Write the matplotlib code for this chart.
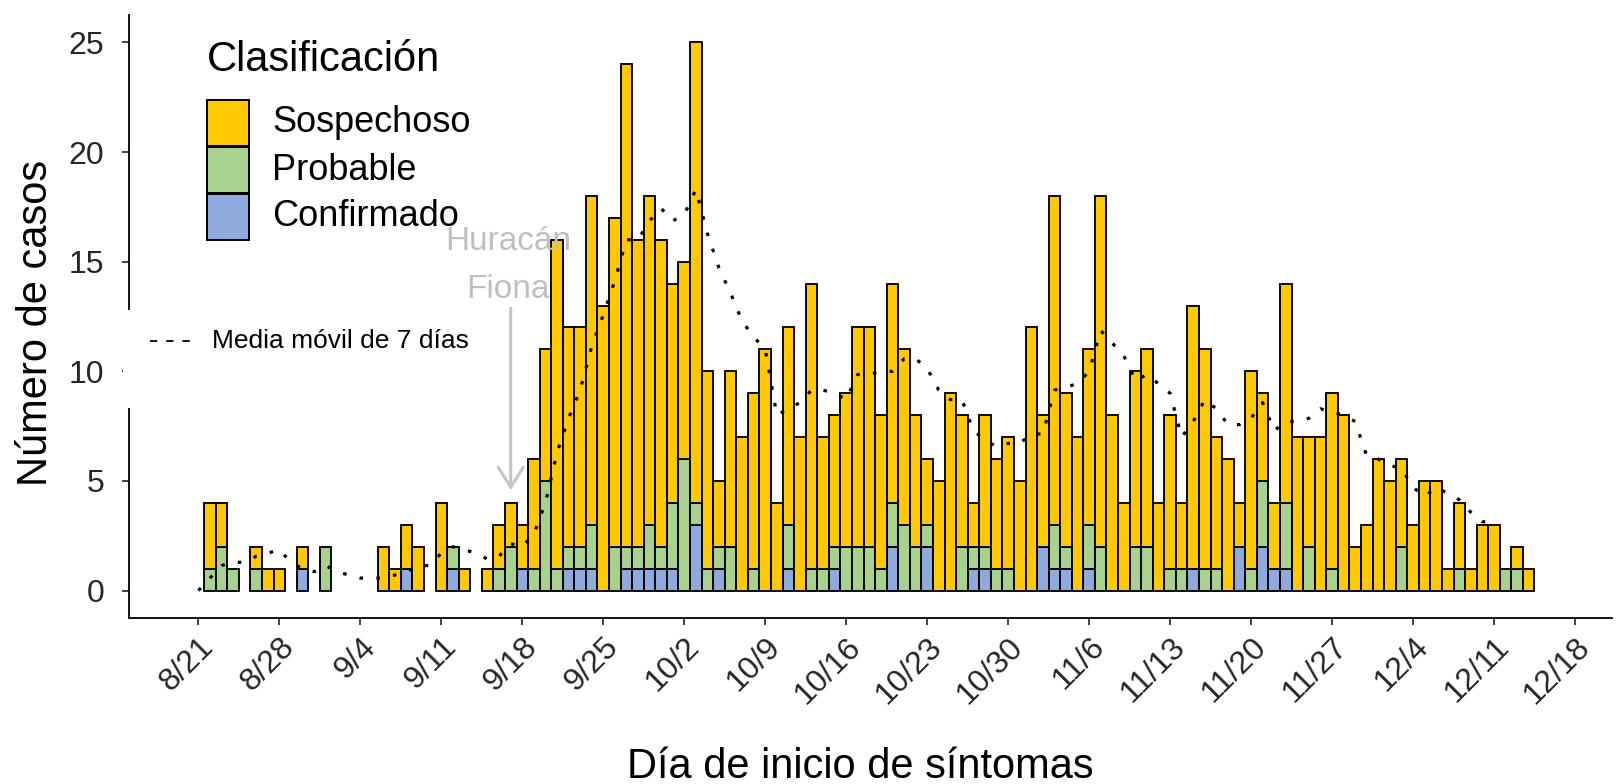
import numpy as np
import matplotlib
matplotlib.use('Agg')
import matplotlib.pyplot as plt
from matplotlib.patches import Rectangle
from matplotlib.lines import Line2D

plt.rcParams['font.family'] = ['Liberation Sans', 'DejaVu Sans']

# ---- data: daily cases from 8/21 (day 0) to 12/14 ----
confirmado = [0, 0, 0, 0, 0, 0, 0, 0, 0, 1, 0, 0, 0, 0, 0, 0, 0, 0, 1, 0,
              0, 0, 1, 0, 0, 0, 0, 0, 1, 0, 0, 0, 1, 1, 1, 0, 0, 1, 1, 1,
              1, 1, 0, 3, 0, 1, 0, 0, 0, 0, 0, 1, 0, 0, 0, 1, 0, 0, 0, 0,
              2, 0, 0, 2, 0, 0, 0, 1, 1, 0, 0, 0, 0, 2, 1, 1, 0, 1, 0, 0,
              0, 0, 0, 0, 0, 0, 1, 0, 0, 0, 2, 0, 2, 1, 1, 0, 0, 0, 0, 0,
              0, 0, 0, 0, 0, 0, 0, 0, 0, 0, 0, 0, 0, 0, 0, 0]
probable = [0, 1, 2, 1, 0, 1, 0, 0, 0, 0, 0, 2, 0, 0, 0, 0, 0, 0, 0, 0,
            0, 0, 1, 0, 0, 0, 1, 2, 0, 1, 5, 1, 1, 1, 2, 0, 2, 1, 1, 2,
            1, 3, 6, 1, 1, 1, 2, 0, 1, 0, 0, 2, 0, 1, 1, 1, 2, 2, 2, 1,
            2, 3, 2, 1, 0, 0, 2, 1, 1, 1, 1, 0, 0, 0, 2, 1, 0, 2, 2, 0,
            0, 2, 2, 0, 1, 1, 0, 1, 1, 0, 0, 1, 3, 0, 3, 0, 2, 0, 1, 0,
            0, 0, 0, 0, 2, 0, 0, 0, 0, 1, 0, 0, 0, 1, 1, 0]
sospechoso = [0, 3, 2, 0, 0, 1, 1, 1, 0, 1, 0, 0, 0, 0, 0, 0, 2, 1, 2, 2,
              0, 4, 0, 1, 0, 1, 2, 2, 2, 5, 6, 15, 10, 10, 15, 13, 15, 22, 14, 15,
              14, 10, 9, 21, 9, 3, 8, 7, 8, 11, 4, 9, 7, 13, 6, 6, 7, 10, 10, 7,
              10, 8, 6, 3, 5, 9, 6, 2, 6, 5, 6, 5, 12, 6, 15, 7, 7, 8, 16, 8,
              4, 8, 9, 4, 7, 3, 12, 10, 6, 6, 2, 9, 4, 3, 10, 7, 5, 7, 8, 8,
              2, 3, 6, 5, 4, 3, 5, 5, 1, 3, 1, 3, 3, 0, 1, 1]
# 7-day moving average (8/21 .. 12/11)
media_movil = [0.00, 0.57, 1.14, 1.29, 1.29, 1.57, 1.71, 1.86, 1.29, 1.00,
               0.86, 1.14, 0.86, 0.71, 0.57, 0.57, 0.57, 0.71, 0.86, 1.14,
               1.14, 1.71, 2.00, 1.86, 1.71, 1.43, 1.57, 2.14, 2.00, 2.57,
               4.00, 6.29, 7.86, 9.14, 11.14, 12.57, 14.14, 16.00, 16.00, 16.86,
               17.43, 16.86, 17.14, 18.29, 16.29, 14.71, 13.57, 12.29, 11.57, 11.00,
               8.00, 8.29, 8.57, 9.14, 9.14, 9.00, 8.71, 9.86, 9.86, 10.00,
               10.00, 10.57, 10.57, 10.14, 9.14, 8.71, 8.71, 7.29, 6.86, 6.57,
               6.71, 6.71, 7.14, 7.14, 9.14, 9.29, 9.43, 10.00, 11.86, 11.29,
               10.71, 9.57, 9.86, 9.43, 9.00, 7.00, 7.71, 8.71, 8.29, 7.57,
               7.57, 7.86, 8.57, 7.29, 7.71, 7.71, 7.86, 8.29, 8.14, 8.00,
               7.71, 6.14, 6.00, 5.71, 5.57, 4.71, 4.29, 4.71, 4.43, 4.14,
               3.57, 3.14, 3.14]
tick_labels = ['8/21', '8/28', '9/4', '9/11', '9/18', '9/25', '10/2', '10/9',
               '10/16', '10/23', '10/30', '11/6', '11/13', '11/20', '11/27',
               '12/4', '12/11', '12/18']
categorias = ['Sospechoso', 'Probable', 'Confirmado']
colores = {'Sospechoso': '#FFC800', 'Probable': '#A9D18E', 'Confirmado': '#8FAADC'}

W, H = 1620, 784
fig = plt.figure(figsize=(W / 100, H / 100), dpi=100)
ax = fig.add_axes([129 / W, 1 - 618 / H, (1612 - 129) / W, (618 - 15) / H])

C = np.array(confirmado)
P = np.array(probable)
S = np.array(sospechoso)
dias = np.arange(len(C))

def barras(vals, bottom, color):
    m = vals > 0
    ax.bar(dias[m], vals[m], bottom=bottom[m], width=1.0, color=color,
           edgecolor='black', linewidth=1.35, zorder=3)

barras(C, np.zeros_like(C), colores['Confirmado'])
barras(P, C, colores['Probable'])
barras(S, C + P, colores['Sospechoso'])

ax.plot(np.arange(len(media_movil)), media_movil, color='black', lw=2.3,
        linestyle=(0, (1.1, 4.2)), zorder=5)

# Hurricane annotation
ax.annotate('', xy=(27, 4.45), xytext=(27, 13.0),
            arrowprops=dict(arrowstyle='->,head_width=0.5,head_length=0.8',
                            color='#C4C4C4', lw=2.2, mutation_scale=18),
            zorder=6)
ax.text(26.8, 15.9, 'Huracán', ha='center', va='center', fontsize=24,
        color='#C3BDC3', zorder=6)
ax.text(26.8, 13.75, 'Fiona', ha='center', va='center', fontsize=24,
        color='#C3BDC3', zorder=6)

ax.set_xlim(-6, 122.2)
ax.set_ylim(-1.25, 26.25)
ax.set_xticks(np.arange(len(tick_labels)) * 7)
ax.set_xticklabels(tick_labels, rotation=45, ha='right', va='top',
                   rotation_mode='anchor')
ax.set_yticks([0, 5, 10, 15, 20, 25])
ax.tick_params(axis='both', labelsize=23, labelcolor='#262626', length=5,
               width=1.2, color='#222222', direction='out')
ax.tick_params(axis='y', pad=13)
ax.tick_params(axis='x', pad=5)
for s in ['top', 'right']:
    ax.spines[s].set_visible(False)
for s in ['left', 'bottom']:
    ax.spines[s].set_linewidth(1.3)

fig.text(36 / W, 1 - 323 / H, 'Número de casos', rotation=90, ha='center',
         va='center', fontsize=30)
fig.text(860 / W, 1 - 767 / H, 'Día de inicio de síntomas', ha='center',
         va='center', fontsize=30)

# Legend (classification), drawn in figure pixels
def fx(x):
    return x / W

def fy(y):
    return 1 - y / H

fig.text(fx(207), fy(60), 'Clasificación', ha='left', va='center', fontsize=30)
for i, cat in enumerate(categorias):
    top = 100 + i * 47
    fig.add_artist(Rectangle((fx(207), fy(top + 46)), 42 / W, 46 / H,
                             transform=fig.transFigure, facecolor=colores[cat],
                             edgecolor='black', linewidth=1.4, zorder=10))
    fig.text(fx(272), fy(top + 23), cat, ha='left', va='center', fontsize=26,
             zorder=10)

# Moving-average legend (white box hides part of the y axis line)
fig.add_artist(Rectangle((fx(123), fy(408)), 14 / W, 98 / H,
                         transform=fig.transFigure, facecolor='white',
                         edgecolor='none', zorder=10))
fig.add_artist(Line2D([fx(150), fx(192)], [fy(341), fy(341)],
                      transform=fig.transFigure, color='black', lw=1.3,
                      linestyle=(0, (4, 5)), zorder=11))
fig.text(fx(212), fy(341), 'Media móvil de 7 días', ha='left', va='center',
         fontsize=19, zorder=11)

fig.savefig('out.png', dpi=100, facecolor='white')
